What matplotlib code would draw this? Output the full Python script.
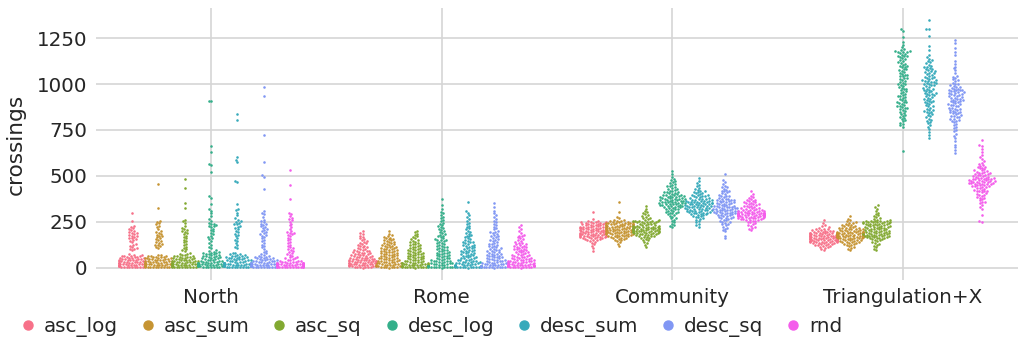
import warnings
import numpy as np
import matplotlib
matplotlib.use("Agg")
import matplotlib.pyplot as plt
from matplotlib.lines import Line2D
import seaborn as sns

warnings.filterwarnings("ignore")

categories = ["North", "Rome", "Community", "Triangulation+X"]
methods = ["asc_log", "asc_sum", "asc_sq", "desc_log", "desc_sum", "desc_sq", "rnd"]

# ---- North ----
north_asc_log = [1,2,3,3,4,5,5,6,6,7,8,8,9,9,10,11,12,12,13,14,14,15,16,17,18,18,19,20,21,22,23,24,25,25,26,27,28,29,30,31,32,33,34,35,36,38,39,40,41,42,44,45,46,48,49,50,52,53,55,56,58,60,61,63,64,66,68,70,72,
                 96,100,104,108,112,118,125,130,138,145,150,155,160,163,167,170,175,178,182,186,190,195,200,205,210,215,222,228,255,295]
north_asc_sum = [1,2,2,3,4,5,6,6,7,8,9,10,10,11,12,13,14,15,16,17,18,19,20,21,22,23,24,25,26,27,28,29,30,32,33,35,36,38,40,42,43,45,47,48,50,52,54,56,58,60,62,65,67,70,
                 3,5,8,12,15,20,25,31,37,44,46,53,57,63,
                 108,112,118,122,126,130,135,140,145,150,155,160,165,170,175,180,185,190,195,200,210,220,228,235,242,250,255,325,455]
north_asc_sq = [1,2,3,3,4,5,6,7,8,9,10,11,12,13,14,15,15,16,17,18,19,20,21,22,23,24,25,26,27,28,30,31,32,34,35,37,38,40,42,44,45,47,49,51,53,55,57,59,61,63,65,68,70,73,76,80,
                2,5,9,12,18,22,29,33,41,50,60,4,
                88,95,100,108,115,122,130,138,145,152,160,168,175,182,188,195,200,205,210,218,225,245,255,262,325,350,435,485]
north_desc_log = [1,2,3,4,5,6,7,8,9,10,11,12,13,14,15,16,17,18,19,20,21,22,23,24,25,26,27,28,29,30,32,33,35,36,38,40,42,44,46,48,50,52,54,56,58,60,62,64,66,68,70,72,74,76,78,80,82,84,86,90,95,3,8,15,
                  105,115,125,135,145,155,162,168,175,182,190,198,205,212,220,225,228,232,236,240,245,255,265,280,295,310,
                  320,345,380,390,520,560,565,630,660,905,910]
north_desc_sum = [1,2,3,4,5,6,7,8,9,10,11,12,13,14,15,16,17,18,19,20,21,22,23,24,25,26,28,30,32,34,36,38,40,42,44,46,48,50,52,54,56,58,60,62,64,66,68,70,72,75,78,82,
                  2,4,6,9,12,15,20,25,33,41,47,55,
                  108,115,125,135,145,152,160,170,178,185,192,200,208,215,222,228,235,240,245,250,255,262,270,285,300,312,320,
                  345,465,470,575,585,600,805,835]
north_desc_sq = [1,2,3,4,5,6,7,8,9,10,11,12,13,14,15,16,17,18,19,20,22,24,26,28,30,32,34,36,38,40,42,45,48,50,52,55,58,60,63,66,70,74,78,85,92,
                 2,5,8,12,16,21,27,33,44,57,3,9,25,35,47,
                 100,110,118,125,135,145,152,160,168,175,180,185,190,195,200,205,210,215,220,225,230,235,240,248,255,262,275,290,300,310,
                 430,495,505,575,725,935,985]
north_rnd = [1,2,3,4,5,6,7,8,9,10,11,12,13,14,15,16,17,18,19,20,21,22,23,24,25,27,29,31,33,35,38,41,44,47,50,53,56,60,
             1,2,3,5,7,9,12,15,18,22,26,30,2,4,6,8,10,20,25,28,34,
             65,70,75,80,85,90,95,100,105,110,118,125,132,140,148,155,162,170,178,182,186,190,195,200,210,220,230,240,250,258,265,272,280,290,298,
             375,450,530]

# ---- Rome ----
rome_asc_log = [0,1,2,3,4,5,6,7,8,9,10,11,12,13,14,15,16,17,18,19,20,21,22,23,24,25,26,27,28,29,30,31,32,33,34,35,36,37,38,39,40,41,42,43,44,45,46,47,48,
                50,52,54,55,57,58,60,62,63,65,67,68,70,72,74,76,78,80,82,84,86,88,90,92,95,98,100,103,106,110,113,116,120,124,128,132,136,140,145,150,155,160,168,175,182,190,200]
rome_asc_sum = [0,1,2,3,4,5,6,7,8,9,10,12,13,14,15,17,18,20,21,23,24,26,27,29,30,32,33,35,36,38,40,41,43,45,46,48,50,52,54,55,57,
                59,61,63,65,67,69,71,73,75,77,79,81,83,85,87,89,91,93,95,97,99,101,103,105,108,110,112,115,117,120,122,125,128,130,133,136,139,142,145,148,
                151,154,157,160,164,168,172,176,185,200]
rome_asc_sq = [0,1,2,3,4,5,6,7,8,9,10,11,12,14,15,16,18,19,20,22,23,25,26,28,29,31,33,34,36,38,40,42,44,46,48,50,52,54,56,58,60,62,64,66,68,70,72,74,76,78,80,
               82,85,87,90,92,95,97,100,103,106,109,112,115,118,121,124,127,130,134,138,142,146,150,155,160,165,170,178,185,192,200,
               1,3,5,8,13,17,21,24]
rome_desc_log = [0,1,2,3,4,5,6,7,8,9,10,12,14,16,18,20,22,24,26,28,30,32,34,36,38,40,43,46,49,52,55,58,61,64,67,70,73,76,79,82,85,88,91,94,97,
                 100,104,108,112,116,120,124,128,132,136,140,144,148,152,156,160,165,170,175,180,185,190,195,200,205,210,215,220,
                 226,232,238,245,252,260,268,276,285,295,305,320,340,375,
                 2,5,15,25,35,50,65,80,110,150,1,3,8]
rome_desc_sum = [0,1,2,3,4,5,6,7,8,9,10,11,13,15,17,19,21,23,25,27,29,31,33,35,37,39,41,44,47,50,53,56,59,62,65,68,71,74,77,80,83,86,89,92,95,98,
                 102,106,110,114,118,122,126,130,134,138,142,146,150,155,160,165,170,175,180,185,190,196,202,208,214,220,228,236,245,255,265,275,285,300,310,355,
                 3,6,12,18,24,30,40,52,64,78,90,105,120,140,2,8]
rome_desc_sq = [0,1,2,3,4,5,6,7,8,9,10,12,14,16,18,20,22,24,26,28,30,32,35,38,41,44,47,50,53,56,59,62,65,68,71,74,77,80,84,88,92,96,
                100,104,108,112,116,120,125,130,135,140,145,150,155,160,166,172,178,184,190,196,202,208,215,222,230,238,246,255,265,275,285,295,310,330,350,
                1,3,5,9,13,17,21,25,29,34,40,48,57,66,75,86,98,110,128,148,170,195]
rome_rnd = [0,1,2,3,4,5,6,7,8,9,10,11,12,13,14,15,16,17,18,19,20,22,24,26,28,30,32,34,36,38,40,42,44,46,48,50,53,56,59,62,65,68,71,74,77,80,
            83,86,89,92,95,98,101,104,107,110,113,116,120,124,128,132,136,140,145,150,155,160,165,170,175,180,190,200,210,220,230,
            2,5,8,11,14,17,21,25,29,33,37,41,45,52,60,70,85,100,115,130]

# ---- Community ----
community_asc_log = [88,105,118,128,135,140,145,148,150,152,155,157,159,160,162,163,165,166,167,168,169,
                     170,171,172,173,174,175,176,177,178,179,180,181,182,183,184,185,186,187,188,189,190,191,192,193,194,195,196,197,198,199,
                     200,201,202,203,204,205,206,207,208,209,210,211,212,213,214,215,216,217,218,219,220,221,222,223,224,225,226,
                     228,230,231,232,234,235,236,238,240,241,243,244,245,246,247,248,250,252,255,265,303]
community_asc_sum = [120,130,138,145,150,153,156,158,160,162,164,166,168,170,171,172,174,175,176,178,179,180,181,182,184,185,186,188,189,
                     190,191,192,193,194,195,196,197,198,199,200,201,202,203,204,205,206,207,208,209,210,211,212,213,214,215,216,217,218,219,
                     220,221,222,223,224,225,226,227,228,229,230,231,232,233,234,235,236,237,238,239,240,241,242,243,244,245,246,247,248,
                     250,252,254,256,258,262,268,275,303,358]
community_asc_sq = [112,125,135,142,148,152,156,160,163,166,168,170,172,174,176,178,180,181,182,184,185,186,188,189,
                    190,191,192,193,194,195,196,197,198,199,200,201,202,203,204,205,206,207,208,209,210,211,212,213,214,215,216,217,218,219,220,221,222,223,224,225,226,
                    228,230,232,234,236,238,240,242,244,246,248,249,250,251,252,253,254,255,256,258,260,264,268,272,276,280,285,290,296,302,310,320,335]
community_desc_log = [221,225,232,240,248,255,262,268,273,278,283,287,291,295,299,302,305,308,311,314,317,
                      320,322,324,326,328,330,332,334,336,338,340,342,344,346,348,350,352,354,356,358,360,362,364,366,368,370,372,374,376,378,380,382,384,386,388,390,392,394,396,398,400,402,
                      405,408,411,414,417,420,423,426,430,434,438,442,446,450,455,460,465,470,477,485,495,510,528,
                      335,345,355,365,375,385,395,350,360,370,340,380,300,410]
community_desc_sum = [222,230,238,246,254,260,265,270,274,278,282,285,288,291,294,297,300,
                      302,304,306,308,310,312,314,316,318,320,322,324,326,328,330,332,334,336,338,340,342,344,346,348,350,352,354,356,358,360,362,364,366,368,370,
                      373,376,379,382,385,388,391,394,397,400,404,408,412,416,420,425,430,436,442,450,460,470,488,
                      305,315,325,335,345,355,365,375,310,320,330,340,350,360,380,390,300,395,410,290,280,298,333,347,362]
community_desc_sq = [160,175,198,205,212,218,224,230,235,240,245,249,253,257,261,265,268,271,274,277,280,283,286,289,292,295,298,
                     300,302,304,306,308,310,312,314,316,318,320,322,324,326,328,330,332,334,336,338,340,343,346,349,352,355,358,361,364,367,370,373,376,
                     380,384,388,392,396,400,405,410,415,420,425,430,438,446,455,465,475,510,
                     285,295,305,315,325,335,345,355,365,375,290,310,330,350,370,250,270,390,420,440,300,320]
community_rnd = [203,210,216,222,228,233,238,242,246,250,253,256,259,262,264,266,268,270,272,274,276,278,280,
                 281,282,283,284,285,286,287,288,289,290,291,292,293,294,295,296,297,298,300,302,304,306,308,310,312,314,316,318,320,
                 323,326,329,332,335,338,341,344,347,350,354,358,362,366,370,375,380,385,392,400,417,
                 260,270,275,285,290,295,300,305,310,280,265,272,288,292,298,315,325,335,345,355,365,283,277,287,293,297,303]

# ---- Triangulation+X ----
triang_asc_log = [96,104,108,112,115,118,120,122,124,126,128,130,131,132,134,135,136,138,139,
                  140,141,142,143,144,145,146,147,148,149,150,151,152,153,154,155,156,157,158,159,160,161,162,163,164,165,166,167,168,169,
                  170,171,172,173,174,175,176,177,178,179,180,181,182,183,184,185,186,187,188,189,190,191,192,
                  194,196,198,200,202,204,206,208,210,213,216,220,225,232,242,262,
                  145,155,165,175,185,150,160,170,180,190,140,200]
triang_asc_sum = [95,102,108,113,118,122,125,128,131,134,136,138,140,142,144,146,148,150,152,154,156,158,160,
                  161,162,163,164,165,166,167,168,169,170,171,172,173,174,175,176,177,178,179,180,181,182,183,184,185,186,187,188,189,190,191,192,193,194,195,196,
                  198,200,202,204,206,208,210,212,214,216,218,220,222,225,228,231,234,238,242,246,252,258,267,283,
                  150,160,170,180,190,200,210,140,165,175,185,195,205,215,230,245]
triang_asc_sq = [95,102,110,118,124,130,135,140,144,148,151,154,157,
                 160,162,164,166,168,170,172,174,176,178,180,182,184,186,188,190,192,194,196,198,200,202,204,206,208,210,212,214,216,218,220,222,224,226,228,230,232,234,236,238,240,242,244,246,248,
                 249,250,251,252,253,254,256,258,262,266,270,275,280,286,292,300,310,322,332,340,
                 165,175,185,195,205,215,225,235,245,255,170,180,190,200,210,220,250,240,230,161,171,181]
triang_desc_log = [636,768,775,782,790,796,802,808,814,820,826,832,838,844,850,
                   855,861,866,870,876,881,885,890,896,900,904,911,915,920,926,930,934,941,945,950,956,960,965,971,975,980,984,991,995,1000,
                   1006,1010,1015,1021,1025,1030,1034,1041,1045,1050,1056,1060,1065,1070,1076,1080,1084,1091,1095,1100,1105,1111,1115,1120,1126,1130,
                   1135,1140,1146,1150,1155,1160,1165,1170,1172,1175,1178,1180,1185,1190,1200,1215,1230,1258,1290,1300,
                   870,900,935,1000,1050,1100,1150,1175,880]
triang_desc_sum = [705,722,740,755,768,778,786,794,800,806,812,818,824,830,836,842,848,854,860,866,872,878,884,890,896,902,908,914,920,926,932,938,944,
                   950,956,962,968,974,980,986,992,998,1004,1010,1016,1022,1028,1034,1040,1046,1052,1058,1064,1070,1076,1082,1088,1094,1100,1106,1112,1118,1124,1130,
                   1138,1145,1160,1185,1205,1262,1298,1300,1347,
                   900,950,1000,1050,1080,880,920,970,1020,1060,940,990,1030,860,910,960,1010,1090,850,930,1040,1070,995,1005,975,1015,945]
triang_desc_sq = [622,640,655,670,690,705,718,730,742,752,760,768,776,784,792,800,806,812,818,824,830,836,842,848,854,860,866,872,878,884,890,896,902,908,914,920,926,932,938,944,
                  950,955,960,965,970,975,980,986,992,1000,1008,1016,1025,1035,1045,1060,1075,1085,1095,1110,1125,1160,1175,1195,1222,1242,
                  850,870,890,910,930,950,960,970,940,920,900,880,860,840,820,800,955,965,975,985,945,925,905,885,865,845,825,810,1020,1040,1000,990,935,915]
triang_rnd = [248,253,285,320,330,340,350,358,366,374,380,386,392,398,404,410,415,420,425,430,434,438,442,446,450,453,456,459,462,465,468,471,474,477,480,483,486,490,494,498,
              502,506,510,514,518,522,526,530,535,540,545,550,555,560,566,572,580,590,602,612,630,648,665,670,697,
              400,420,440,460,480,500,520,455,465,475,485,445,435,425,470,490,510,530,550,458,462,468,472,478,482,488,495,505,515,360,380,395,415,448,452]

series = {
    "North": [north_asc_log, north_asc_sum, north_asc_sq, north_desc_log, north_desc_sum, north_desc_sq, north_rnd],
    "Rome": [rome_asc_log, rome_asc_sum, rome_asc_sq, rome_desc_log, rome_desc_sum, rome_desc_sq, rome_rnd],
    "Community": [community_asc_log, community_asc_sum, community_asc_sq, community_desc_log, community_desc_sum, community_desc_sq, community_rnd],
    "Triangulation+X": [triang_asc_log, triang_asc_sum, triang_asc_sq, triang_desc_log, triang_desc_sum, triang_desc_sq, triang_rnd],
}


def swarm_offsets(y_px, radius):
    """Beeswarm layout: horizontal pixel offsets for points sorted by y."""
    order = np.argsort(y_px, kind="mergesort")
    ys = y_px[order]
    xs_sorted = np.zeros_like(ys)
    placed_x, placed_y = [], []
    d = 2 * radius
    for i, y in enumerate(ys):
        nx, ny = [], []
        for j in range(len(placed_y) - 1, -1, -1):
            if y - placed_y[j] < d:
                nx.append(placed_x[j]); ny.append(placed_y[j])
            else:
                break
        if not nx:
            x = 0.0
        else:
            nx_a, ny_a = np.array(nx), np.array(ny)
            cands = [0.0]
            left_first = True
            for xj, yj in zip(nx, ny):
                dx = np.sqrt(max(d ** 2 - (y - yj) ** 2, 0)) * 1.05
                pair = [xj - dx, xj + dx] if left_first else [xj + dx, xj - dx]
                cands.extend(pair)
                left_first = not left_first
            cands = np.array(cands)
            cands = cands[np.argsort(np.abs(cands), kind="mergesort")]
            x = cands[-1]
            for c in cands:
                if np.all((nx_a - c) ** 2 + (ny_a - y) ** 2 >= d ** 2 - 1e-9):
                    x = c
                    break
        placed_x.append(x); placed_y.append(y)
        xs_sorted[i] = x
    out = np.empty_like(xs_sorted)
    out[order] = xs_sorted
    return out


sns.set_theme(style="whitegrid")
sns.set_context("notebook", font_scale=1.3)
plt.rcParams["font.family"] = ["DejaVu Sans"]

palette = sns.color_palette("husl", len(methods))
DPI = 100
marker_pt = 1.85

fig, ax = plt.subplots(figsize=(10.2, 3.44), dpi=DPI)
fig.subplots_adjust(left=0.094, right=0.998, top=0.977, bottom=0.186)

n_hue = len(methods)
slot = 0.8 / n_hue
collections = []
for ci, cat in enumerate(categories):
    for hi, (method, values) in enumerate(zip(methods, series[cat])):
        xc = ci - 0.4 + slot * (hi + 0.5)
        vals = np.asarray(values, dtype=float)
        pc = ax.scatter(np.full(vals.size, xc), vals, s=marker_pt ** 2,
                        color=palette[hi], linewidths=0, zorder=3)
        collections.append((pc, xc, vals))

ax.set_xlim(-0.5, len(categories) - 0.5)
ax.autoscale_view(scalex=False)
ax.set_ylim(ax.get_ylim())

radius = marker_pt / 2 * DPI / 72
for pc, xc, vals in collections:
    pix = ax.transData.transform(np.column_stack([np.full(vals.size, xc), vals]))
    off = swarm_offsets(pix[:, 1], radius)
    pix[:, 0] = pix[:, 0] + off
    data = ax.transData.inverted().transform(pix)
    half = slot / 2
    data[:, 0] = np.clip(data[:, 0], xc - half, xc + half)
    pc.set_offsets(data)

ax.set_xticks(range(len(categories)))
ax.set_xticklabels(categories)
ax.set_yticks([0, 250, 500, 750, 1000, 1250])
ax.set_ylabel("crossings", labelpad=8)
ax.tick_params(axis="both", length=0, pad=6)
ax.grid(True, color="#d5d5d5", linewidth=1.2)
ax.set_axisbelow(True)
for s in ax.spines.values():
    s.set_visible(False)

handles = [Line2D([0], [0], marker="o", linestyle="", markersize=6.5,
                  markerfacecolor=c, markeredgecolor=c) for c in palette]
fig.legend(handles, methods, loc="center left", bbox_to_anchor=(0.01, 1 - 327 / 344),
           ncol=7, frameon=False, handletextpad=0.3,
           columnspacing=1.0, handlelength=1.0, borderaxespad=0.0)

fig.savefig("out.png", dpi=DPI)
